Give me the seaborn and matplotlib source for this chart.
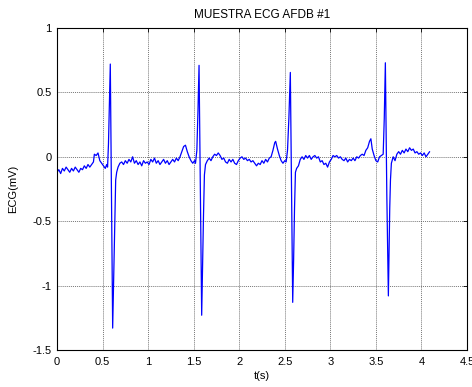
import matplotlib
matplotlib.use("Agg")
import matplotlib.pyplot as plt
import seaborn as sns
import pandas as pd
from matplotlib.ticker import FuncFormatter

title = "MUESTRA ECG AFDB #1"
xlabel = "t(s)"
ylabel = "ECG(mV)"
xticks = [0, 0.5, 1, 1.5, 2, 2.5, 3, 3.5, 4, 4.5]
yticks = [-1.5, -1, -0.5, 0, 0.5, 1]

# time (s) and ECG amplitude (mV)
t_seg1 = [0.00, 0.02, 0.04, 0.06, 0.08, 0.10, 0.12, 0.14, 0.16, 0.18, 0.20, 0.22, 0.24, 0.26,
          0.28, 0.30, 0.32, 0.34, 0.36, 0.38, 0.40, 0.41, 0.43, 0.45, 0.47, 0.49, 0.51, 0.53,
          0.545, 0.555]
v_seg1 = [-0.12, -0.10, -0.13, -0.09, -0.11, -0.08, -0.10, -0.12, -0.09, -0.11, -0.08, -0.10,
          -0.12, -0.09, -0.10, -0.07, -0.09, -0.06, -0.08, -0.06, -0.04, 0.02, 0.01, 0.03, -0.03,
          -0.05, -0.07, -0.09, -0.06, -0.08]

t_beat1 = [0.565, 0.575, 0.585, 0.598, 0.611, 0.622, 0.633, 0.644, 0.655, 0.67, 0.69]
v_beat1 = [0.10, 0.42, 0.72, -0.30, -1.33, -0.95, -0.55, -0.18, -0.12, -0.08, -0.05]

t_seg2 = [0.71, 0.73, 0.75, 0.77, 0.79, 0.81, 0.83, 0.85, 0.87, 0.89, 0.91, 0.93, 0.95, 0.97,
          0.99, 1.01, 1.03, 1.05, 1.07, 1.09, 1.11, 1.13, 1.15, 1.17, 1.19, 1.21, 1.23, 1.25,
          1.27, 1.29, 1.31, 1.33, 1.35, 1.37, 1.39, 1.41, 1.43, 1.45, 1.47, 1.49, 1.51, 1.52]
v_seg2 = [-0.04, -0.06, -0.03, -0.05, -0.02, -0.04, 0.00, -0.05, -0.03, -0.06, -0.04, -0.07,
          -0.03, -0.05, -0.04, -0.06, -0.02, -0.04, -0.01, -0.05, -0.03, -0.06, -0.04, -0.02,
          -0.05, -0.03, -0.06, -0.04, -0.02, -0.04, -0.01, -0.03, 0.00, 0.04, 0.08, 0.09, 0.04,
          0.00, -0.03, -0.05, -0.03, -0.05]

t_beat2 = [1.535, 1.547, 1.559, 1.573, 1.588, 1.598, 1.608, 1.618, 1.63, 1.65]
v_beat2 = [0.05, 0.35, 0.71, -0.25, -1.23, -0.85, -0.45, -0.14, -0.06, -0.03]

t_seg3 = [1.67, 1.69, 1.71, 1.73, 1.75, 1.77, 1.79, 1.81, 1.83, 1.85, 1.87, 1.89, 1.91, 1.93,
          1.95, 1.97, 1.99, 2.01, 2.03, 2.05, 2.07, 2.09, 2.11, 2.13, 2.15, 2.17, 2.19, 2.21,
          2.23, 2.25, 2.27, 2.29, 2.31, 2.33, 2.35, 2.37, 2.39, 2.40, 2.42, 2.44, 2.46, 2.48,
          2.50, 2.515]
v_seg3 = [-0.01, -0.03, 0.00, 0.02, 0.01, 0.03, 0.01, -0.02, -0.01, -0.04, -0.05, -0.02,
          -0.04, -0.02, -0.05, -0.06, -0.03, -0.01, 0.00, -0.02, -0.01, -0.03, -0.02, -0.04,
          -0.03, -0.05, -0.07, -0.05, -0.06, -0.03, -0.05, -0.02, -0.04, -0.01, 0.00, 0.05,
          0.11, 0.12, 0.06, 0.01, -0.03, -0.05, -0.03, -0.04]

t_beat3 = [2.53, 2.545, 2.561, 2.574, 2.587, 2.597, 2.607, 2.617, 2.63, 2.65]
v_beat3 = [0.05, 0.30, 0.655, -0.25, -1.13, -0.80, -0.40, -0.12, -0.09, -0.07]

t_seg4 = [2.67, 2.69, 2.71, 2.73, 2.75, 2.77, 2.79, 2.81, 2.83, 2.85, 2.87, 2.89, 2.91, 2.93,
          2.95, 2.97, 2.99, 3.01, 3.03, 3.05, 3.07, 3.09, 3.11, 3.13, 3.15, 3.17, 3.19, 3.21,
          3.23, 3.25, 3.27, 3.29, 3.31, 3.33, 3.35, 3.37, 3.39, 3.41, 3.43, 3.445, 3.46, 3.48,
          3.50, 3.52, 3.54, 3.56, 3.58]
v_seg4 = [-0.02, 0.00, -0.02, 0.01, -0.01, 0.01, -0.02, 0.00, 0.01, -0.01, 0.00, -0.04,
          -0.03, -0.06, -0.05, -0.08, -0.04, -0.02, 0.01, 0.00, 0.01, -0.01, 0.00, -0.02,
          -0.03, -0.01, -0.04, -0.02, -0.03, -0.01, -0.03, 0.00, -0.01, 0.01, 0.02, 0.01,
          0.05, 0.07, 0.12, 0.14, 0.06, 0.01, -0.03, -0.04, 0.00, 0.01, 0.02]

t_beat4 = [3.592, 3.604, 3.62, 3.637, 3.645, 3.652, 3.66, 3.67, 3.69, 3.71]
v_beat4 = [0.30, 0.73, -0.30, -1.08, -0.70, -0.40, -0.18, -0.05, 0.00, -0.03]

t_seg5 = [3.73, 3.75, 3.77, 3.79, 3.81, 3.83, 3.85, 3.87, 3.89, 3.91, 3.93, 3.95, 3.97, 3.99,
          4.01, 4.03, 4.05, 4.07, 4.09]
v_seg5 = [0.02, 0.04, 0.02, 0.05, 0.03, 0.06, 0.04, 0.07, 0.05, 0.06, 0.03, 0.04, 0.02, 0.03,
          0.01, 0.03, 0.00, 0.02, 0.04]

t_all = t_seg1 + t_beat1 + t_seg2 + t_beat2 + t_seg3 + t_beat3 + t_seg4 + t_beat4 + t_seg5
v_all = v_seg1 + v_beat1 + v_seg2 + v_beat2 + v_seg3 + v_beat3 + v_seg4 + v_beat4 + v_seg5
df = pd.DataFrame({"t": t_all, "ecg": v_all})

sns.set_theme(style="white")
plt.rcParams["font.family"] = ["Liberation Sans", "DejaVu Sans"]

fig = plt.figure(figsize=(4.72, 3.87), dpi=100)
ax = fig.add_axes([57 / 472, 1 - 350 / 387, 410 / 472, 322 / 387])

sns.lineplot(data=df, x="t", y="ecg", ax=ax, color="#0000ff", linewidth=0.9,
             estimator=None, sort=False)

ax.set_xlim(0, 4.5)
ax.set_ylim(-1.5, 1)
ax.set_xticks(xticks)
ax.set_yticks(yticks)
fmt = FuncFormatter(lambda v, p: "%g" % v)
ax.xaxis.set_major_formatter(fmt)
ax.yaxis.set_major_formatter(fmt)
ax.grid(True, color="#555555", linestyle=(0, (1, 1)), linewidth=0.7, alpha=0.8)
for s in ax.spines.values():
    s.set_visible(True)
    s.set_color("black")
    s.set_linewidth(0.8)
ax.tick_params(direction="in", top=True, right=True, length=3, width=0.6,
               labelsize=8, colors="black")
ax.tick_params(axis="x", pad=5)
ax.tick_params(axis="y", pad=4)
ax.set_title(title, fontsize=8.5, color="black", pad=7)
ax.set_xlabel(xlabel, fontsize=8, color="black", labelpad=3)
ax.set_ylabel(ylabel, fontsize=8, color="black", labelpad=10)

fig.savefig("out.png", dpi=100, facecolor="white")
